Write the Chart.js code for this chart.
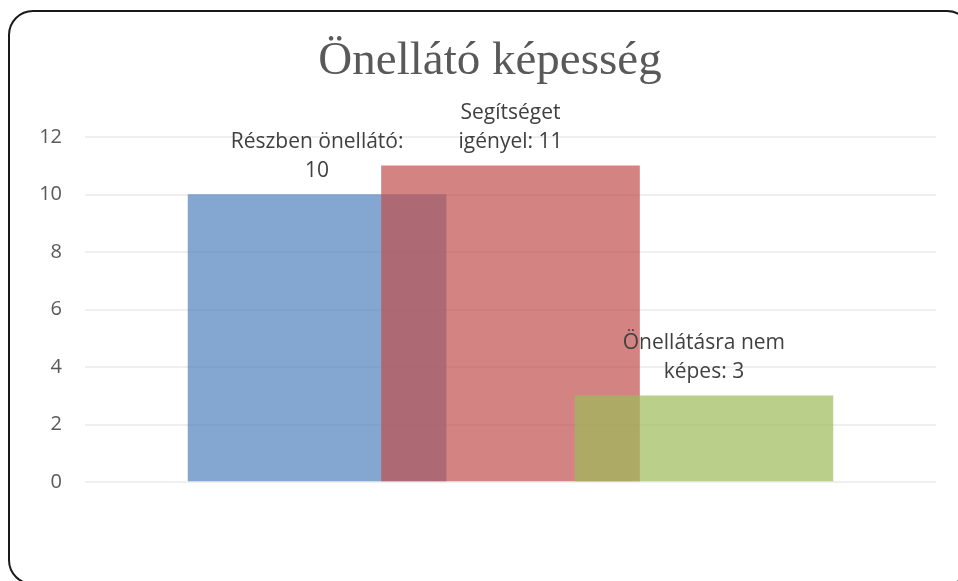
<!DOCTYPE html>
<html>
<head>
<meta charset="utf-8">
<title>Önellátó képesség</title>
<script src="https://cdn.jsdelivr.net/npm/chart.js@4.4.1/dist/chart.umd.min.js"></script>
<style>
    html, body { margin: 0; padding: 0; background: #fff; }
    #wrap { width: 958px; height: 581px; }
</style>
</head>
<body>
<div id="wrap"><canvas id="abilityChart" width="958" height="581"></canvas></div>
<script>
// --- data ---
var chartTitle = 'Önellátó képesség';
var categories = ['Részben önellátó', 'Segítséget igényel', 'Önellátásra nem képes'];
var values = [10, 11, 3];
var positions = [1, 2, 3];          // bar slots on the x scale
var labelBreaks = [2, 1, 2];        // words on the first line of each data label
var yTicks = [0, 2, 4, 6, 8, 10, 12];
var barColors = ['rgba(79,129,189,0.7)', 'rgba(192,80,77,0.7)', 'rgba(155,187,89,0.7)'];

function labelLinesFor(i) {
    var words = (categories[i] + ': ' + values[i]).split(' ');
    return [words.slice(0, labelBreaks[i]).join(' '), words.slice(labelBreaks[i]).join(' ')];
}

// frame + title, drawn by hand like the Excel chart box
var framePlugin = {
    id: 'frame',
    beforeDraw: function(chart) {
        var c = chart.ctx;
        c.save();
        c.fillStyle = '#fff';
        c.fillRect(0, 0, chart.width, chart.height);
        c.fillStyle = '#595959';
        c.font = '47px "Liberation Serif"';
        c.textAlign = 'center';
        c.textBaseline = 'alphabetic';
        c.fillText(chartTitle, 490, 74);
        c.restore();
    },
    afterDraw: function(chart) {
        var c = chart.ctx;
        c.save();
        c.strokeStyle = '#1a1a1a';
        c.lineWidth = 2;
        c.beginPath();
        c.roundRect(9, 11, 962, 573, 24);
        c.stroke();
        c.restore();
    }
};

// data labels above bars
var labelPlugin = {
    id: 'barLabels',
    afterDatasetsDraw: function(chart) {
        var c = chart.ctx;
        var meta = chart.getDatasetMeta(0);
        c.save();
        c.fillStyle = '#404040';
        c.font = '21px "Open Sans"';
        c.textAlign = 'center';
        c.textBaseline = 'alphabetic';
        meta.data.forEach(function(bar, i) {
            var lines = labelLinesFor(i);
            var base = bar.y - 18;
            for (var k = lines.length - 1; k >= 0; k--) {
                c.fillText(lines[k], bar.x, base);
                base -= 29;
            }
        });
        c.restore();
    }
};

var ctx = document.getElementById('abilityChart');
var abilityChart = new Chart(ctx, {
    type: 'bar',
    data: {
        datasets: [{
            label: chartTitle,
            data: positions.map(function(p, i) { return {x: p, y: values[i]}; }),
            backgroundColor: barColors,
            borderWidth: 0,
            barThickness: 258,
            grouped: false
        }]
    },
    options: {
        responsive: false,
        animation: false,
        layout: { padding: { left: 9, top: 137, right: 22, bottom: 99 } },
        plugins: {
            legend: { display: false },
            tooltip: { enabled: false },
            title: { display: false }
        },
        scales: {
            x: { type: 'linear', display: false, offset: false, min: -0.2, max: 4.2 },
            y: {
                min: yTicks[0],
                max: yTicks[yTicks.length - 1],
                afterBuildTicks: function(scale) {
                    scale.ticks = yTicks.map(function(v) { return {value: v}; });
                },
                afterFit: function(scale) { scale.width = 76; },
                border: { display: false },
                grid: { color: '#EFEFEF', lineWidth: 2, drawTicks: false },
                ticks: {
                    padding: 23,
                    color: '#595959',
                    font: { family: 'Open Sans', size: 20 }
                }
            }
        }
    },
    plugins: [framePlugin, labelPlugin]
});
</script>
</body>
</html>
